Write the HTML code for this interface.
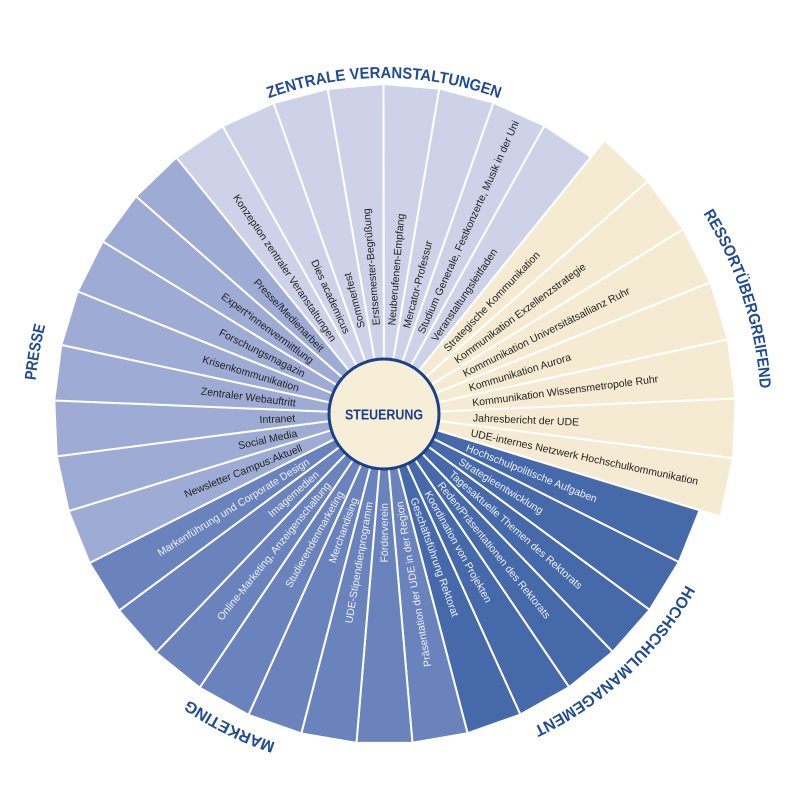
<!DOCTYPE html>
<html><head><meta charset="utf-8"><style>
html,body{margin:0;padding:0;background:#fff;}
svg{display:block;}
.l{font-family:"Liberation Sans",sans-serif;font-size:10.5px;}
.d{fill:#222;}
.w{fill:#eef1f9;}
.c{font-family:"Liberation Sans",sans-serif;font-size:16px;font-weight:bold;fill:#1f4a94;}
</style></head><body>
<svg width="800" height="800" viewBox="0 0 800 800" xmlns="http://www.w3.org/2000/svg">
<defs>
<polygon id="wn" points="0,0 328.81,-27.99 328.81,27.99"/>
<polygon id="wl" points="0,0 350.73,-29.85 350.73,29.85"/>
<path id="pzv" d="M168.0,156.6 A336,336 0 0 1 600.0,156.6"/>
<path id="pre" d="M583.8,94.3 A377,377 0 0 1 733.5,555.2"/>
<path id="phm" d="M728.4,456.3 A347,347 0 0 1 402.2,760.5"/>
<path id="pma" d="M465.9,750.2 A346,346 0 0 1 67.2,553.1"/>
<path id="ppr" d="M80.6,588.5 A350,350 0 0 1 159.5,145.5"/>
</defs>
<g transform="translate(384,414)" stroke="#fff" stroke-width="2" stroke-linejoin="round">
<use href="#wn" fill="#cdd2e9" transform="rotate(-124.14)"/>
<use href="#wn" fill="#cdd2e9" transform="rotate(-114.41)"/>
<use href="#wn" fill="#cdd2e9" transform="rotate(-104.68)"/>
<use href="#wn" fill="#cdd2e9" transform="rotate(-94.95)"/>
<use href="#wn" fill="#cdd2e9" transform="rotate(-85.22)"/>
<use href="#wn" fill="#cdd2e9" transform="rotate(-75.49)"/>
<use href="#wn" fill="#cdd2e9" transform="rotate(-65.76)"/>
<use href="#wn" fill="#cdd2e9" transform="rotate(-56.03)"/>
<use href="#wn" fill="#466aa9" transform="rotate(21.81)"/>
<use href="#wn" fill="#466aa9" transform="rotate(31.54)"/>
<use href="#wn" fill="#466aa9" transform="rotate(41.27)"/>
<use href="#wn" fill="#466aa9" transform="rotate(51.00)"/>
<use href="#wn" fill="#466aa9" transform="rotate(60.73)"/>
<use href="#wn" fill="#466aa9" transform="rotate(70.46)"/>
<use href="#wn" fill="#6b83bc" transform="rotate(80.19)"/>
<use href="#wn" fill="#6b83bc" transform="rotate(89.92)"/>
<use href="#wn" fill="#6b83bc" transform="rotate(99.65)"/>
<use href="#wn" fill="#6b83bc" transform="rotate(109.38)"/>
<use href="#wn" fill="#6b83bc" transform="rotate(119.11)"/>
<use href="#wn" fill="#6b83bc" transform="rotate(128.84)"/>
<use href="#wn" fill="#6b83bc" transform="rotate(138.57)"/>
<use href="#wn" fill="#6b83bc" transform="rotate(148.30)"/>
<use href="#wn" fill="#9eabd4" transform="rotate(158.03)"/>
<use href="#wn" fill="#9eabd4" transform="rotate(167.76)"/>
<use href="#wn" fill="#9eabd4" transform="rotate(177.49)"/>
<use href="#wn" fill="#9eabd4" transform="rotate(187.22)"/>
<use href="#wn" fill="#9eabd4" transform="rotate(196.95)"/>
<use href="#wn" fill="#9eabd4" transform="rotate(206.68)"/>
<use href="#wn" fill="#9eabd4" transform="rotate(216.41)"/>
<use href="#wn" fill="#9eabd4" transform="rotate(226.14)"/>
<use href="#wl" fill="#f4ebd2" transform="rotate(-46.30)"/>
<use href="#wl" fill="#f4ebd2" transform="rotate(-36.57)"/>
<use href="#wl" fill="#f4ebd2" transform="rotate(-26.84)"/>
<use href="#wl" fill="#f4ebd2" transform="rotate(-17.11)"/>
<use href="#wl" fill="#f4ebd2" transform="rotate(-7.38)"/>
<use href="#wl" fill="#f4ebd2" transform="rotate(2.35)"/>
<use href="#wl" fill="#f4ebd2" transform="rotate(12.08)"/>
</g>
<g transform="translate(384,414)">
<!-- ZV -->
<text class="l d" text-anchor="end" dy="0.35em" transform="rotate(55.86) translate(-89,0)">Konzeption zentraler Veranstaltungen</text>
<text class="l d" text-anchor="end" dy="0.35em" transform="rotate(65.59) translate(-89,0)">Dies academicus</text>
<text class="l d" dy="0.35em" transform="rotate(-104.68) translate(89,0)">Sommerfest</text>
<text class="l d" dy="0.35em" transform="rotate(-94.95) translate(89,0)">Erstsemester-Begrüßung</text>
<text class="l d" dy="0.35em" transform="rotate(-85.22) translate(89,0)">Neuberufenen-Empfang</text>
<text class="l d" dy="0.35em" transform="rotate(-75.49) translate(89,0)">Mercator-Professur</text>
<text class="l d" dy="0.35em" transform="rotate(-65.76) translate(89,0)">Studium Generale, Festkonzerte, Musik in der Uni</text>
<text class="l d" dy="0.35em" transform="rotate(-56.03) translate(89,0)">Veranstaltungsleitfaden</text>
<!-- Ressort -->
<text class="l d" dy="0.35em" transform="rotate(-46.30) translate(89,0)">Strategische Kommunikation</text>
<text class="l d" dy="0.35em" transform="rotate(-36.57) translate(89,0)">Kommunikation Exzellenzstrategie</text>
<text class="l d" dy="0.35em" transform="rotate(-26.84) translate(89,0)">Kommunikation Universitätsallianz Ruhr</text>
<text class="l d" dy="0.35em" transform="rotate(-17.11) translate(89,0)">Kommunikation Aurora</text>
<text class="l d" dy="0.35em" transform="rotate(-7.38) translate(89,0)">Kommunikation Wissensmetropole Ruhr</text>
<text class="l d" dy="0.35em" transform="rotate(2.35) translate(89,0)">Jahresbericht der UDE</text>
<text class="l d" dy="0.35em" transform="rotate(12.08) translate(89,0)">UDE-internes Netzwerk Hochschulkommunikation</text>
<!-- HM -->
<text class="l w" dy="0.35em" transform="rotate(21.81) translate(89,0)">Hochschulpolitische Aufgaben</text>
<text class="l w" dy="0.35em" transform="rotate(31.54) translate(89,0)">Strategieentwicklung</text>
<text class="l w" dy="0.35em" transform="rotate(41.27) translate(89,0)">Tagesaktuelle Themen des Rektorats</text>
<text class="l w" dy="0.35em" transform="rotate(51.00) translate(89,0)">Reden/Präsentationen des Rektorats</text>
<text class="l w" dy="0.35em" transform="rotate(60.73) translate(89,0)">Koordination von Projekten</text>
<text class="l w" dy="0.35em" transform="rotate(70.46) translate(89,0)">Geschäftsführung Rektorat</text>
<text class="l w" text-anchor="end" dy="0.35em" transform="rotate(260.19) translate(-89,0)">Präsentation der UDE in der Region</text>
<!-- Marketing -->
<text class="l w" text-anchor="end" dy="0.35em" transform="rotate(269.92) translate(-89,0)">Förderverein</text>
<text class="l w" text-anchor="end" dy="0.35em" transform="rotate(279.65) translate(-89,0)">UDE-Stipendienprogramm</text>
<text class="l w" text-anchor="end" dy="0.35em" transform="rotate(289.38) translate(-89,0)">Merchandising</text>
<text class="l w" text-anchor="end" dy="0.35em" transform="rotate(299.11) translate(-89,0)">Studierendenmarketing</text>
<text class="l w" text-anchor="end" dy="0.35em" transform="rotate(308.84) translate(-89,0)">Online-Marketing, Anzeigenschaltung</text>
<text class="l w" text-anchor="end" dy="0.35em" transform="rotate(318.57) translate(-89,0)">Imagemedien</text>
<text class="l w" text-anchor="end" dy="0.35em" transform="rotate(328.30) translate(-89,0)">Markenführung und Corporate Design</text>
<!-- Presse -->
<text class="l d" text-anchor="end" dy="0.35em" transform="rotate(338.03) translate(-89,0)">Newsletter Campus:Aktuell</text>
<text class="l d" text-anchor="end" dy="0.35em" transform="rotate(347.76) translate(-89,0)">Social Media</text>
<text class="l d" text-anchor="end" dy="0.35em" transform="rotate(357.49) translate(-89,0)">Intranet</text>
<text class="l d" text-anchor="end" dy="0.35em" transform="rotate(7.22) translate(-89,0)">Zentraler Webauftritt</text>
<text class="l d" text-anchor="end" dy="0.35em" transform="rotate(16.95) translate(-89,0)">Krisenkommunikation</text>
<text class="l d" text-anchor="end" dy="0.35em" transform="rotate(26.68) translate(-89,0)">Forschungsmagazin</text>
<text class="l d" text-anchor="end" dy="0.35em" transform="rotate(36.41) translate(-89,0)">Expert*innenvermittlung</text>
<text class="l d" text-anchor="end" dy="0.35em" transform="rotate(46.14) translate(-89,0)">Presse/Medienarbeit</text>
</g>
<circle cx="384" cy="414" r="55" fill="#f6eed6" stroke="#1b3f8b" stroke-width="3"/>
<text x="384" y="414" dy="0.35em" text-anchor="middle" textLength="78" lengthAdjust="spacingAndGlyphs" style="font-family:'Liberation Sans',sans-serif;font-size:15px;font-weight:bold;fill:#1b3f8b;">STEUERUNG</text>
<text class="c"><textPath href="#pzv" startOffset="50%" text-anchor="middle" textLength="235" lengthAdjust="spacingAndGlyphs">ZENTRALE VERANSTALTUNGEN</textPath></text>
<text class="c"><textPath href="#pre" startOffset="50%" text-anchor="middle" textLength="186" lengthAdjust="spacingAndGlyphs">RESSORTÜBERGREIFEND</textPath></text>
<text class="c"><textPath href="#phm" startOffset="50%" text-anchor="middle" textLength="212" lengthAdjust="spacingAndGlyphs">HOCHSCHULMANAGEMENT</textPath></text>
<text class="c"><textPath href="#pma" startOffset="50%" text-anchor="middle" textLength="97" lengthAdjust="spacingAndGlyphs">MARKETING</textPath></text>
<text class="c"><textPath href="#ppr" startOffset="50%" text-anchor="middle" textLength="56" lengthAdjust="spacingAndGlyphs">PRESSE</textPath></text>
</svg>
</body></html>
